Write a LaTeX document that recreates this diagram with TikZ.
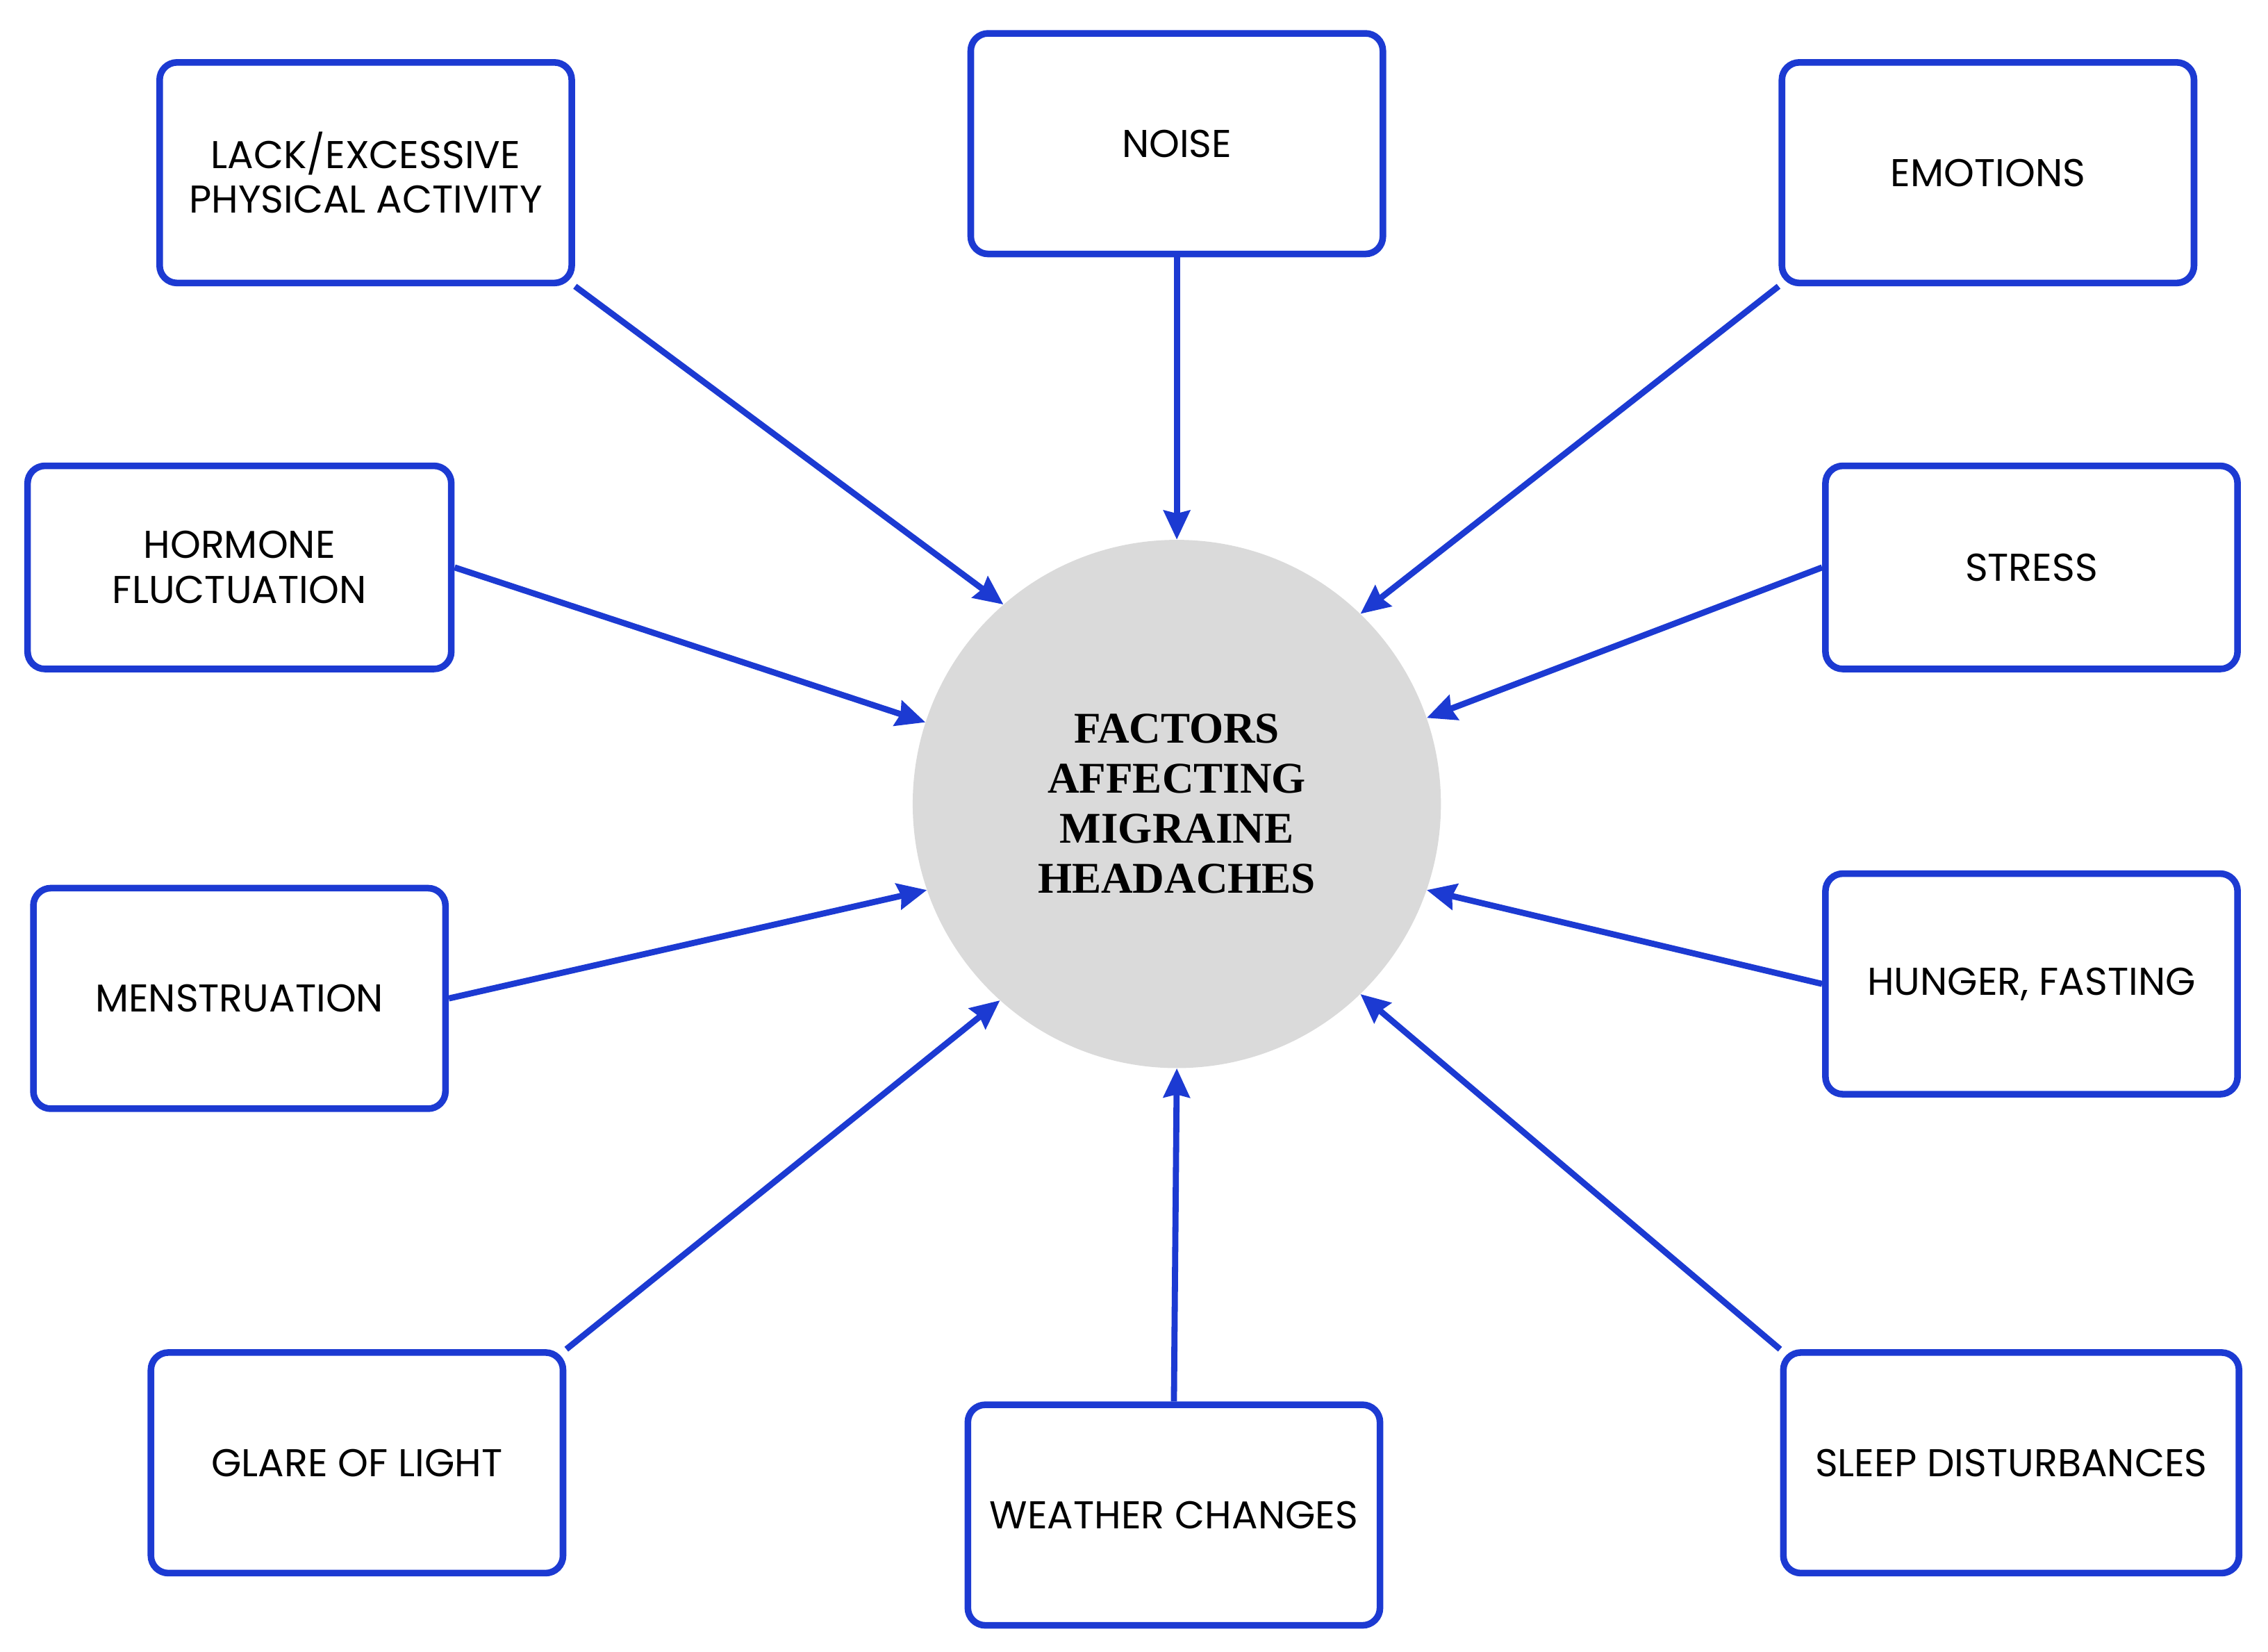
\documentclass[tikz,border=0pt]{standalone}
\usepackage{fontspec}
\setmainfont{Poppins}
\newfontfamily\serifc{Liberation Serif}
\usetikzlibrary{arrows.meta}
\definecolor{bl}{RGB}{28,58,210}
\definecolor{cg}{RGB}{218,218,218}
\begin{document}
\begin{tikzpicture}[x=0.5mm,y=-0.5mm,
 box/.style={draw=bl,line width=6.5pt,rounded corners=6mm,minimum width=142mm,minimum height=76mm,align=center,font=\fontsize{38}{44}\selectfont,inner sep=0pt},
 arr/.style={draw=bl,line width=6pt,-{Stealth[length=10mm,width=9mm,inset=1mm]}}]
\useasboundingbox (0,0) rectangle (1563,1138);
\node[circle,fill=cg,minimum size=182mm,inner sep=0pt,align=center,font=\serifc\bfseries\fontsize{43}{49}\selectfont] (c) at (811,554) {FACTORS\\AFFECTING\\MIGRAINE\\HEADACHES};
\node[box] (lack) at (252,119) {LACK/EXCESSIVE\\PHYSICAL ACTIVITY};
\node[box] (noise) at (811,99) {NOISE};
\node[box] (emo) at (1370,119) {EMOTIONS};
\node[box,minimum width=146mm,minimum height=70mm] (horm) at (165,391) {HORMONE\\FLUCTUATION};
\node[box,minimum height=70mm] (stress) at (1400,391) {STRESS};
\node[box] (men) at (165,688) {MENSTRUATION};
\node[box] (hun) at (1400,678) {HUNGER, FASTING};
\node[box] (glare) at (246,1008) {GLARE OF LIGHT};
\node[box] (wea) at (809,1044) {WEATHER CHANGES};
\node[box,minimum width=157mm] (sleep) at (1386,1008) {SLEEP DISTURBANCES};
\draw[arr] (lack.south east) -- (c.131);
\draw[arr] (noise.south) -- (c.north);
\draw[arr] (emo.south west) -- (c.46.5);
\draw[arr] (horm.east) -- (c.162);
\draw[arr] (stress.west) -- (c.19);
\draw[arr] (men.east) -- (c.199);
\draw[arr] (hun.west) -- (c.341);
\draw[arr] (glare.north east) -- (c.228);
\draw[arr] (wea.north) -- (c.south);
\draw[arr] (sleep.north west) -- (c.314);
\end{tikzpicture}
\end{document}
